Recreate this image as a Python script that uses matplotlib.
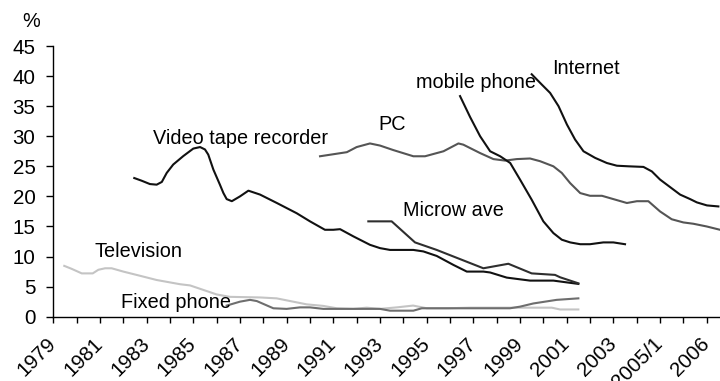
import matplotlib
matplotlib.use("Agg")
import matplotlib.pyplot as plt
from matplotlib.transforms import ScaledTranslation

plt.rcParams['font.family'] = ['Liberation Sans', 'DejaVu Sans']

# Position along the category axis (one unit per category, centres at k + 0.5)
tv_t = [0.47, 0.79, 1.22, 1.69, 1.93, 2.22, 2.50, 3.00, 3.72, 4.43, 5.43, 5.86, 6.43,
        7.00, 7.57, 8.86, 9.57, 10.15, 10.86, 11.56, 12.15, 12.85, 13.43, 14.00, 14.72,
        15.42, 16.01, 16.86, 17.86, 18.29, 19.57, 21.36, 21.72, 22.50]
tv_v = [8.45, 7.95, 7.2, 7.2, 7.8, 8.05, 8.05, 7.5, 6.8, 6.1, 5.4, 5.2, 4.45,
        3.7, 3.3, 3.2, 3.05, 2.6, 2.05, 1.8, 1.4, 1.3, 1.5, 1.3, 1.55,
        1.85, 1.4, 1.4, 1.5, 1.5, 1.5, 1.5, 1.2, 1.2]

fixed_t = [7.43, 8.00, 8.43, 8.72, 9.43, 10.00, 10.57, 11.00, 11.57, 14.00, 14.43,
           15.43, 15.79, 18.29, 19.57, 20.00, 20.57, 21.57, 22.50]
fixed_v = [1.85, 2.5, 2.8, 2.6, 1.4, 1.3, 1.55, 1.55, 1.3, 1.3, 1.0,
           1.0, 1.4, 1.4, 1.4, 1.67, 2.2, 2.8, 3.05]

vtr_t = [3.47, 3.79, 4.14, 4.43, 4.65, 4.86, 5.14, 5.57, 6.00, 6.29, 6.50, 6.64, 6.86,
         7.14, 7.29, 7.43, 7.65, 8.00, 8.36, 8.86, 9.58, 10.43, 11.00, 11.64, 12.00,
         12.29, 12.86, 13.57, 14.00, 14.43, 15.43, 15.86, 16.43, 17.15, 17.72, 18.43,
         18.72, 19.43, 20.43, 21.43, 22.50]
vtr_v = [23.05, 22.6, 22.05, 21.95, 22.4, 23.9, 25.3, 26.7, 27.95, 28.2, 27.8, 26.95, 24.45,
         21.95, 20.55, 19.55, 19.2, 20.0, 20.95, 20.3, 18.9, 17.2, 15.85, 14.45, 14.45,
         14.55, 13.35, 11.95, 11.4, 11.1, 11.1, 10.85, 10.1, 8.6, 7.5, 7.5,
         7.35, 6.5, 6.0, 6.0, 5.45]

micro_t = [13.50, 14.50, 15.50, 16.43, 18.43, 19.50, 20.50, 21.50, 21.72, 22.50]
micro_v = [15.85, 15.85, 12.35, 11.1, 8.05, 8.8, 7.2, 6.95, 6.55, 5.55]

pc_t = [11.43, 12.58, 13.00, 13.57, 14.00, 14.57, 15.43, 15.93, 16.72, 17.36, 17.57,
        18.29, 18.86, 19.36, 19.86, 20.43, 20.86, 21.43, 21.79, 22.15, 22.58, 23.00,
        23.51, 24.00, 24.58, 25.01, 25.50, 26.00, 26.50, 27.00, 27.43, 28.00, 28.57]
pc_v = [26.67, 27.35, 28.2, 28.8, 28.45, 27.7, 26.67, 26.67, 27.5, 28.8, 28.6,
        27.2, 26.2, 25.95, 26.2, 26.3, 25.85, 25.0, 23.9, 22.2, 20.55, 20.1,
        20.1, 19.55, 18.9, 19.2, 19.2, 17.5, 16.2, 15.67, 15.45, 15.0, 14.45]

mobile_t = [17.43, 17.86, 18.29, 18.72, 19.15, 19.58, 20.00, 20.50, 21.00, 21.43, 21.79,
            22.15, 22.58, 23.00, 23.57, 24.00, 24.50]
mobile_v = [36.67, 33.2, 30.0, 27.5, 26.67, 25.55, 22.8, 19.45, 15.85, 13.9, 12.8,
            12.35, 12.05, 12.05, 12.35, 12.35, 12.05]

net_t = [20.50, 20.93, 21.29, 21.65, 22.01, 22.36, 22.72, 23.22, 23.72, 24.15, 24.65,
         25.29, 25.65, 26.00, 26.43, 26.86, 27.29, 27.58, 28.01, 28.50]
net_v = [40.3, 38.6, 37.2, 35.0, 31.95, 29.45, 27.5, 26.4, 25.55, 25.1, 25.0,
         24.9, 24.15, 22.8, 21.55, 20.3, 19.55, 19.0, 18.5, 18.33]

tick_labels = ["1979", "1981", "1983", "1985", "1987", "1989", "1991", "1993",
               "1995", "1997", "1999", "2001", "2003", "2005/1", "2006"]

fig = plt.figure(figsize=(7.2, 3.81), dpi=100)
ax = fig.add_axes([53.3 / 720, 64.3 / 381, (720 - 53.3) / 720, 270.7 / 381])

lw = 1.5
ax.plot(tv_t, tv_v, color='#c4c4c4', lw=lw, solid_joinstyle='round')
ax.plot(fixed_t, fixed_v, color='#6e6e6e', lw=lw, solid_joinstyle='round')
ax.plot(vtr_t, vtr_v, color='#111111', lw=lw, solid_joinstyle='round')
ax.plot(micro_t, micro_v, color='#2e2e2e', lw=lw, solid_joinstyle='round')
ax.plot(pc_t, pc_v, color='#555555', lw=lw, solid_joinstyle='round')
ax.plot(mobile_t, mobile_v, color='#111111', lw=lw, solid_joinstyle='round')
ax.plot(net_t, net_v, color='#111111', lw=lw, solid_joinstyle='round')

fs = 14.3
ax.text(4.27, 29.67, "Video tape recorder", fontsize=fs, ha='left', va='center')
ax.text(14.5, 31.95, "PC", fontsize=fs, ha='center', va='center')
ax.text(15.53, 38.9, "mobile phone", fontsize=fs, ha='left', va='center')
ax.text(21.36, 41.3, "Internet", fontsize=fs, ha='left', va='center')
ax.text(14.99, 17.7, "Microw ave", fontsize=fs, ha='left', va='center')
ax.text(1.76, 10.78, "Television", fontsize=fs, ha='left', va='center')
ax.text(2.9, 2.4, "Fixed phone", fontsize=fs, ha='left', va='center')
ax.text(-0.96, 49.0, "%", fontsize=fs, ha='center', va='center', clip_on=False)

ax.set_xlim(0, 28.57)
ax.set_ylim(0, 45)
ax.set_yticks(range(0, 46, 5))
ax.set_xticks(range(0, 29, 2))
ax.set_xticks(range(1, 29, 2), minor=True)
ax.set_xticklabels(tick_labels, rotation=45, ha='right', va='center',
                   rotation_mode='anchor')

# nudge the slanted year labels slightly left
shift = ScaledTranslation(-6 / 100, 0, fig.dpi_scale_trans)
for lab in ax.get_xticklabels():
    lab.set_transform(lab.get_transform() + shift)

for s in ['top', 'right']:
    ax.spines[s].set_visible(False)
for s in ['left', 'bottom']:
    ax.spines[s].set_linewidth(1.0)
    ax.spines[s].set_color('black')

ax.tick_params(axis='y', direction='out', length=4.8, width=1, pad=8, labelsize=14.8)
ax.tick_params(axis='x', which='both', direction='out', length=4, width=1, pad=13.5,
               labelsize=14.8)

fig.savefig("out.png", dpi=100)
